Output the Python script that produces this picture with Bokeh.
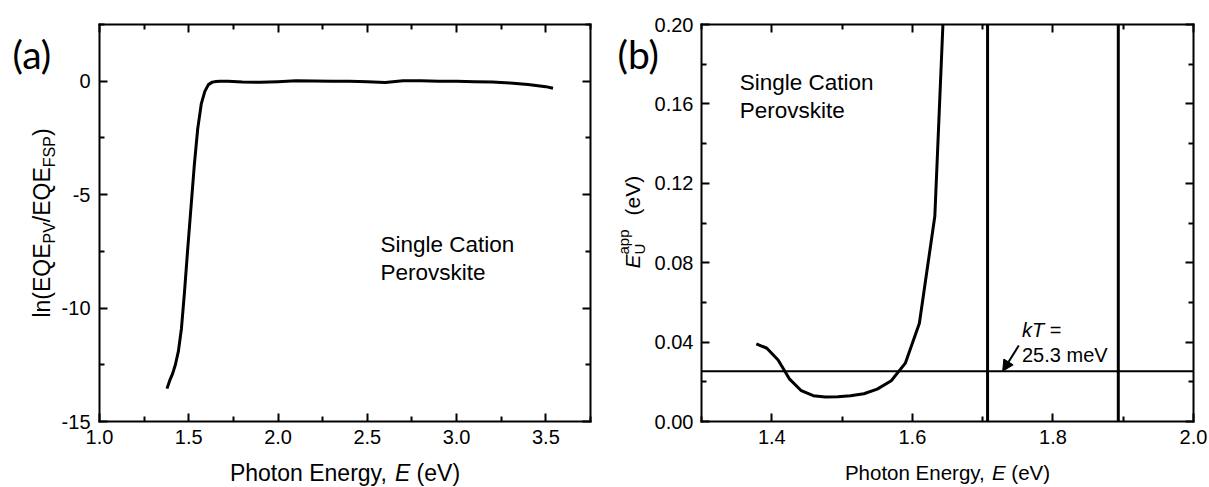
import math
from bokeh.plotting import figure
from bokeh.layouts import row
from bokeh.models import (Range1d, FixedTicker, PrintfTickFormatter, LinearAxis,
                          Label, Arrow, NormalHead)
from bokeh.embed import file_html
from bokeh.resources import INLINE

# ---------------- data ----------------
# panel (a): ln(EQE_PV / EQE_FSP) vs photon energy
energy_a = [1.378, 1.393, 1.409, 1.425, 1.442, 1.459, 1.476, 1.494, 1.512, 1.531,
            1.550, 1.570, 1.590, 1.610, 1.632, 1.653, 1.675, 1.72, 1.80, 1.90,
            2.00, 2.10, 2.20, 2.30, 2.40, 2.50, 2.60, 2.70, 2.80, 2.90,
            3.00, 3.10, 3.20, 3.30, 3.40, 3.50, 3.54]
ln_ratio_a = [-13.55, -13.2, -12.9, -12.5, -11.9, -10.9, -9.3, -7.4, -5.6, -3.7,
              -2.1, -1.0, -0.45, -0.15, -0.04, -0.01, 0.0, 0.0, -0.03, -0.05,
              -0.02, 0.02, 0.01, 0.0, 0.0, -0.02, -0.06, 0.02, 0.02, 0.0,
              0.0, -0.02, -0.04, -0.08, -0.14, -0.24, -0.31]

# panel (b): apparent Urbach energy vs photon energy
energy_b = [1.378, 1.393, 1.409, 1.425, 1.442, 1.459, 1.476, 1.494, 1.512, 1.531,
            1.550, 1.570, 1.590, 1.610, 1.632, 1.653]
eu_app_b = [0.0391, 0.0369, 0.0310, 0.0215, 0.0155, 0.0130, 0.0123, 0.0125, 0.0130, 0.0140,
            0.0163, 0.0205, 0.0294, 0.0495, 0.1035, 0.28]
edge_lines_b = [1.707, 1.893]
kT_eV = 0.0253

x_major_a = [1.0, 1.5, 2.0, 2.5, 3.0, 3.5]
x_minor_a = [1.25, 1.75, 2.25, 2.75, 3.25, 3.75]
y_major_a = [-15, -10, -5, 0]
y_minor_a = [-12.5, -7.5, -2.5, 2.5]
x_major_b = [1.4, 1.6, 1.8, 2.0]
x_minor_b = [1.3, 1.5, 1.7, 1.9]
y_major_b = [0.0, 0.04, 0.08, 0.12, 0.16, 0.20]
y_minor_b = [0.02, 0.06, 0.10, 0.14, 0.18]

XR_A, YR_A = (1.0, 3.75), (-15.0, 2.5)
XR_B, YR_B = (1.3, 2.0), (0.0, 0.2)

SANS = "Liberation Sans"
EM = {' ': .278, '(': .333, ')': .333, ',': .278, '/': .278, '=': .584, '.': .278,
      'E': .667, 'P': .667, 'h': .556, 'o': .556, 't': .278, 'n': .556, 'r': .333,
      'g': .556, 'y': .5, 'e': .556, 'V': .667, 'l': .222, 'Q': .778, 'F': .611,
      'S': .667, 'U': .722, 'a': .556, 'p': .556, 'k': .5, 'T': .611, 'm': .833}
# offset between requested anchor and rendered alphabetic baseline, in em
BASE_SHIFT = {SANS: 0.35, "Lato": 0.39}


def tw(s, size):
    return sum(EM.get(c, 0.556) for c in s) * size


H = 487
TOP, BOT = 24, 421  # plot box top/bottom in pixels


class Panel:
    """A figure whose frame is the whole canvas; the plot box is drawn with fixed-location axes."""

    def __init__(self, width, box_left, box_right, xr, yr):
        self.xr, self.yr = xr, yr
        kx = (xr[1] - xr[0]) / (box_right - box_left)
        ky = (yr[1] - yr[0]) / (BOT - TOP)
        x0 = xr[0] - box_left * kx
        y1 = yr[1] + TOP * ky
        self.kx, self.ky, self.x0, self.y1 = kx, ky, x0, y1
        p = figure(width=width, height=H,
                   x_range=Range1d(x0, x0 + width * kx), y_range=Range1d(y1 - H * ky, y1),
                   output_backend="svg", toolbar_location=None,
                   x_axis_location=None, y_axis_location=None,
                   min_border=0, min_border_left=0, min_border_right=0,
                   min_border_top=0, min_border_bottom=0)
        p.grid.visible = False
        p.outline_line_color = None
        p.background_fill_color = "white"
        p.border_fill_color = "white"
        self.p = p

    def conv(self, px, py):
        return self.x0 + px * self.kx, self.y1 - py * self.ky

    def axis(self, side, ticker, fmt, labels, standoff):
        if side in ("below", "above"):
            loc = self.yr[0] if side == "below" else self.yr[1]
            bounds = self.xr
        else:
            loc = self.xr[0] if side == "left" else self.xr[1]
            bounds = self.yr
        ax = LinearAxis(ticker=ticker, formatter=fmt, fixed_location=loc, bounds=bounds)
        ax.axis_line_width = 2
        ax.axis_line_color = "black"
        ax.axis_line_cap = "square"
        ax.major_tick_in = 8
        ax.major_tick_out = 0
        ax.minor_tick_in = 5
        ax.minor_tick_out = 0
        ax.major_tick_line_width = 2
        ax.minor_tick_line_width = 2
        ax.major_tick_line_color = "black"
        ax.minor_tick_line_color = "black"
        ax.major_label_text_font = SANS
        if labels:
            ax.major_label_text_color = "black"
            ax.major_label_text_font_size = "20px"
            ax.major_label_standoff = standoff
        else:
            ax.major_label_text_color = None
            ax.major_label_text_font_size = "1px"
            ax.major_label_standoff = 0
        self.p.add_layout(ax, side)

    def axes(self, xt, yt, xf, yf, sx, sy):
        self.axis("below", xt, xf, True, sx)
        self.axis("left", yt, yf, True, sy)
        self.axis("above", xt, xf, False, 0)
        self.axis("right", yt, yf, False, 0)

    def put(self, px, py, text, size, italic=False, angle=0.0, font=SANS):
        # (px, py): wanted start of the alphabetic baseline, in canvas pixels
        d = BASE_SHIFT.get(font, 0.35) * size
        if angle:
            px -= d
        else:
            py -= d
        x, y = self.conv(px, py)
        self.p.add_layout(Label(x=x, y=y, text=text, text_font=font,
                                text_font_size=f"{size}px",
                                text_font_style="italic" if italic else "normal",
                                angle=angle, text_align="left", text_baseline="alphabetic",
                                text_color="black"))


def clip_top(xs, ys, ymax):
    """Cut a polyline where it leaves the plot box through the top edge."""
    ox, oy = [xs[0]], [ys[0]]
    for i in range(1, len(xs)):
        if ys[i] <= ymax:
            ox.append(xs[i]); oy.append(ys[i])
        else:
            t = (ymax - ys[i - 1]) / (ys[i] - ys[i - 1])
            ox.append(xs[i - 1] + t * (xs[i] - xs[i - 1])); oy.append(ymax)
            break
    return ox, oy


# ---------------- panel (a) ----------------
A = Panel(600, 99, 590, XR_A, YR_A)
A.axes(FixedTicker(ticks=x_major_a, minor_ticks=x_minor_a),
       FixedTicker(ticks=y_major_a, minor_ticks=y_minor_a),
       PrintfTickFormatter(format="%.1f"), PrintfTickFormatter(format="%d"), 8, 9)
A.p.line(energy_a, ln_ratio_a, line_color="black", line_width=3, line_join="round")

A.put(380, 251.7, "Single Cation", 22.5)
A.put(380, 280, "Perovskite", 22.5)
A.put(12, 68.5, "(a)", 39, font="Lato")

s = 23
x0 = (99 + 590) / 2 - tw("Photon Energy, E (eV)", s) / 2
A.put(x0, 480.5, "Photon Energy,", s)
x1 = x0 + tw("Photon Energy, ", s)
A.put(x1, 480.5, "E", s, italic=True)
A.put(x1 + tw("E ", s), 480.5, "(eV)", s)

big, small = 23, 16
pieces = [("ln(EQE", big, 0), ("PV", small, 5), ("/EQE", big, 0), ("FSP", small, 5), (")", big, 0)]
total = sum(tw(t, sz) for t, sz, _ in pieces)
yc = (TOP + BOT) / 2 + total / 2
for t, sz, dx in pieces:
    A.put(50 + dx, yc, t, sz, angle=math.pi / 2)
    yc -= tw(t, sz)

# ---------------- panel (b) ----------------
OFF = 600
B = Panel(609, 701 - OFF, 1193 - OFF, XR_B, YR_B)
B.axes(FixedTicker(ticks=x_major_b, minor_ticks=x_minor_b),
       FixedTicker(ticks=y_major_b, minor_ticks=y_minor_b),
       PrintfTickFormatter(format="%.1f"), PrintfTickFormatter(format="%.2f"), 8, 8)
B.p.segment(x0=edge_lines_b, y0=[YR_B[0]] * len(edge_lines_b),
            x1=edge_lines_b, y1=[YR_B[1]] * len(edge_lines_b),
            line_color="black", line_width=3)
B.p.segment(x0=[XR_B[0]], y0=[kT_eV], x1=[XR_B[1]], y1=[kT_eV],
            line_color="black", line_width=2)
bx, by = clip_top(energy_b, eu_app_b, YR_B[1])
B.p.line(bx, by, line_color="black", line_width=3, line_join="round")


def bput(px, py, *args, **kw):
    B.put(px - OFF, py, *args, **kw)


bput(739.3, 90, "Single Cation", 22.5)
bput(739.3, 117.7, "Perovskite", 22.5)
bput(617, 68.5, "(b)", 39, font="Lato")

ks = 20
bput(1021.5, 336.7, "k", ks, italic=True)
bput(1021.5 + tw("k", ks), 336.7, "T", ks, italic=True)
bput(1021.5 + tw("kT ", ks), 336.7, "=", ks)
bput(1021.5, 361.7, "25.3 meV", ks)
ax0, ay0 = B.conv(1018.3 - OFF, 345)
B.p.add_layout(Arrow(end=NormalHead(size=11, fill_color="black", line_color="black", line_width=1),
                     x_start=ax0, y_start=ay0, x_end=1.7285, y_end=kT_eV,
                     line_color="black", line_width=2))

s = 20.5
x0 = 947 - tw("Photon Energy, E (eV)", s) / 2
bput(x0, 479.5, "Photon Energy,", s)
x1 = x0 + tw("Photon Energy, ", s)
bput(x1, 479.5, "E", s, italic=True)
bput(x1 + tw("E ", s), 479.5, "(eV)", s)

mb, sb = 21, 15
bput(639, 268, "E", mb, italic=True, angle=math.pi / 2)
bput(644, 268 - tw("E", mb), "U", sb, angle=math.pi / 2)
bput(628, 268 - tw("E", mb), "app", sb, angle=math.pi / 2)
bput(639, 215, "(eV)", mb, angle=math.pi / 2)

layout = row(A.p, B.p)
open("out.html", "w").write(file_html(layout, INLINE, title="chart"))
